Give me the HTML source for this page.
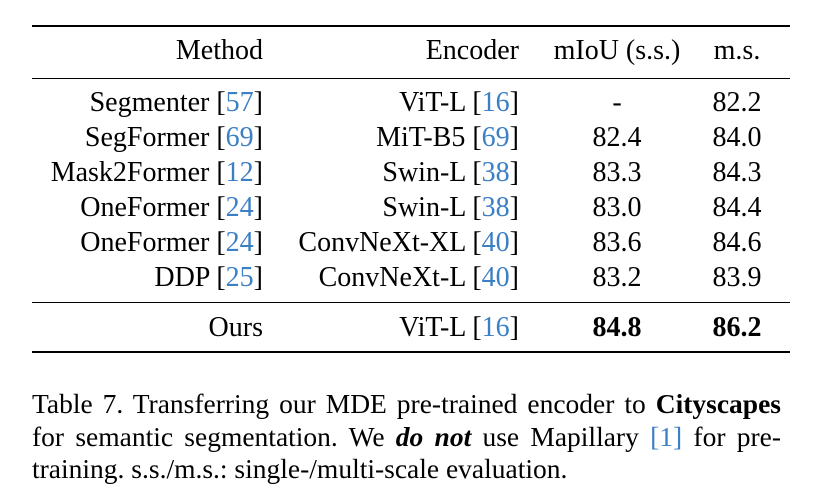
<!DOCTYPE html>
<html><head><meta charset="utf-8"><style>
body{margin:0;background:#fff;width:814px;height:495px;position:relative;overflow:hidden;font-family:"Liberation Serif",serif;color:#000}
.t{position:absolute;font-size:28px;line-height:28px;white-space:nowrap}
.r{text-align:right}
.c{text-align:center;width:160px}
.rule{position:absolute;left:32px;width:758px;background:#000}
.ref{color:#3b7fc4}
.cl{position:absolute;left:32px;width:749px;font-size:27.5px;line-height:32px;white-space:nowrap}
.j{text-align:justify;text-align-last:justify}
</style></head><body>
<div class="rule" style="top:25px;height:2px"></div>
<div class="rule" style="top:78px;height:1.3px"></div>
<div class="rule" style="top:302px;height:1.3px"></div>
<div class="rule" style="top:351px;height:2px"></div>
<div id="tbl"></div>
<div class="cl j" style="top:388px">Table 7. Transferring our MDE pre-trained encoder to <b>Cityscapes</b></div>
<div class="cl j" style="top:421px">for semantic segmentation. We <b><i>do not</i></b> use Mapillary <span class="ref">[1]</span> for pre-</div>
<div class="cl" style="top:453px">training. s.s./m.s.: single-/multi-scale evaluation.</div>
<script>
const methods=["Method","Segmenter [57]","SegFormer [69]","Mask2Former [12]","OneFormer [24]","OneFormer [24]","DDP [25]","Ours"];
const encoders=["Encoder","ViT-L [16]","MiT-B5 [69]","Swin-L [38]","Swin-L [38]","ConvNeXt-XL [40]","ConvNeXt-L [40]","ViT-L [16]"];
const miou=["mIoU (s.s.)","-","82.4","83.3","83.0","83.6","83.2","84.8"];
const ms=["m.s.","82.2","84.0","84.3","84.4","84.6","83.9","86.2"];
const baselines=[60,112,147,182,217,252,287,337];
const tbl=document.getElementById('tbl');
function fmt(s){return s.replace(/\[(\d+)\]/g,'[<span class="ref">$1</span>]');}
function add(txt,cls,style,bold,name){
 const d=document.createElement('div');
 d.className='t '+cls;d.setAttribute('style',style);
 d.innerHTML=bold?'<b>'+fmt(txt)+'</b>':fmt(txt);
 
 
 tbl.appendChild(d);}
for(let i=0;i<methods.length;i++){
 const top=baselines[i]-23.5;const b=i===7;
 add(methods[i],'r',`right:${814-263}px;top:${top}px`,false,'method-cell');
 add(encoders[i],'r',`right:${814-519}px;top:${top}px`,false,'encoder-cell');
 add(miou[i],'c',`left:${617-80}px;top:${top}px`,b,'miou-cell');
 add(ms[i],'c',`left:${737-80}px;top:${top}px`,b,'ms-cell');
}
</script>
</body></html>
